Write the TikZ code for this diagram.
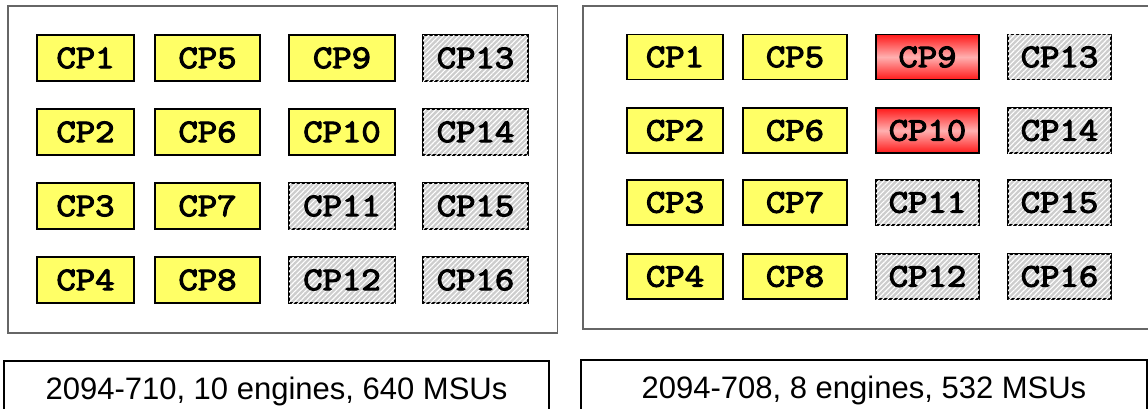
\documentclass[tikz,border=0pt]{standalone}
\usepackage{fontspec}
\setmainfont{Liberation Sans}
\newfontfamily\cpfont[FakeBold=3.5, FakeStretch=1.14]{Latin Modern Mono}
\usetikzlibrary{patterns.meta}
\definecolor{cpyellow}{HTML}{FFFF66}
\definecolor{cpgray}{HTML}{CDCDCD}
\definecolor{framegray}{HTML}{666666}
\definecolor{cpred}{HTML}{FF1A1A}
\definecolor{cppink}{HTML}{FFB0B0}
\tikzset{
  cpbox/.style={draw=black, line width=1.8pt, inner sep=0pt, minimum height=46pt,
    font=\cpfont\fontsize{33}{33}\selectfont},
  cpyel/.style={cpbox, fill=cpyellow},
  cpoff/.style={cpbox, fill=cpgray, postaction={pattern={Lines[angle=45, distance=3.6pt, line width=1.1pt]}, pattern color=white}},
  cpbad/.style={cpbox, top color=cpred, bottom color=cpred, middle color=cppink},
  frame/.style={draw=framegray, line width=1.4pt},
  caption/.style={draw=black, line width=1.6pt, inner sep=0pt, font=\fontsize{31}{31}\selectfont}
}
\begin{document}
\begin{tikzpicture}[x=1pt,y=-1pt]
\useasboundingbox (0,0) rectangle (1148,408);
\clip (0,0) rectangle (1148,408);
% frames
\draw[frame] (8,6) rectangle (557.5,333);
\draw[frame] (583,6) rectangle (1165,329);
% left panel
\node[cpyel, minimum width=97pt]  (L1)  at (85.5,58)  {CP1};
\node[cpyel, minimum width=97pt]  (L2)  at (85.5,132) {CP2};
\node[cpyel, minimum width=97pt]  (L3)  at (85.5,206) {CP3};
\node[cpyel, minimum width=97pt]  (L4)  at (85.5,280) {CP4};
\node[cpyel, minimum width=105pt] (L5)  at (207.5,58)  {CP5};
\node[cpyel, minimum width=105pt] (L6)  at (207.5,132) {CP6};
\node[cpyel, minimum width=105pt] (L7)  at (207.5,206) {CP7};
\node[cpyel, minimum width=105pt] (L8)  at (207.5,280) {CP8};
\node[cpyel, minimum width=106pt] (L9)  at (342,58)  {CP9};
\node[cpyel, minimum width=106pt] (L10) at (342,132) {CP10};
\node[cpoff, minimum width=106pt] (L11) at (342,206) {CP11};
\node[cpoff, minimum width=106pt] (L12) at (342,280) {CP12};
\node[cpoff, minimum width=105pt] (L13) at (475.5,58)  {CP13};
\node[cpoff, minimum width=105pt] (L14) at (475.5,132) {CP14};
\node[cpoff, minimum width=105pt] (L15) at (475.5,206) {CP15};
\node[cpoff, minimum width=105pt] (L16) at (475.5,280) {CP16};
% right panel
\node[cpyel, minimum width=96pt, minimum height=45pt]  (R1)  at (675,57)  {CP1};
\node[cpyel, minimum width=96pt, minimum height=45pt]  (R2)  at (675,130.5) {CP2};
\node[cpyel, minimum width=96pt, minimum height=45pt]  (R3)  at (675,202.5) {CP3};
\node[cpyel, minimum width=96pt, minimum height=45pt]  (R4)  at (675,276.5) {CP4};
\node[cpyel, minimum width=104pt, minimum height=45pt] (R5)  at (795,57)  {CP5};
\node[cpyel, minimum width=104pt, minimum height=45pt] (R6)  at (795,130.5) {CP6};
\node[cpyel, minimum width=104pt, minimum height=45pt] (R7)  at (795,202.5) {CP7};
\node[cpyel, minimum width=104pt, minimum height=45pt] (R8)  at (795,276.5) {CP8};
\node[cpbad, minimum width=103pt, minimum height=45pt] (R9)  at (927.5,57)  {CP9};
\node[cpbad, minimum width=103pt, minimum height=45pt] (R10) at (927.5,130.5) {CP10};
\node[cpoff, minimum width=103pt, minimum height=45pt] (R11) at (927.5,202.5) {CP11};
\node[cpoff, minimum width=103pt, minimum height=45pt] (R12) at (927.5,276.5) {CP12};
\node[cpoff, minimum width=103pt, minimum height=45pt] (R13) at (1059.5,57)  {CP13};
\node[cpoff, minimum width=103pt, minimum height=45pt] (R14) at (1059.5,130.5) {CP14};
\node[cpoff, minimum width=103pt, minimum height=45pt] (R15) at (1059.5,202.5) {CP15};
\node[cpoff, minimum width=103pt, minimum height=45pt] (R16) at (1059.5,276.5) {CP16};
% captions
\node[caption, minimum width=545pt, minimum height=60pt] (CL) at (276.5,391) {2094-710, 10 engines, 640 MSUs};
\node[caption, minimum width=566pt, minimum height=60pt] (CR) at (864,390) {2094-708, 8 engines, 532 MSUs};
\end{tikzpicture}
\end{document}
